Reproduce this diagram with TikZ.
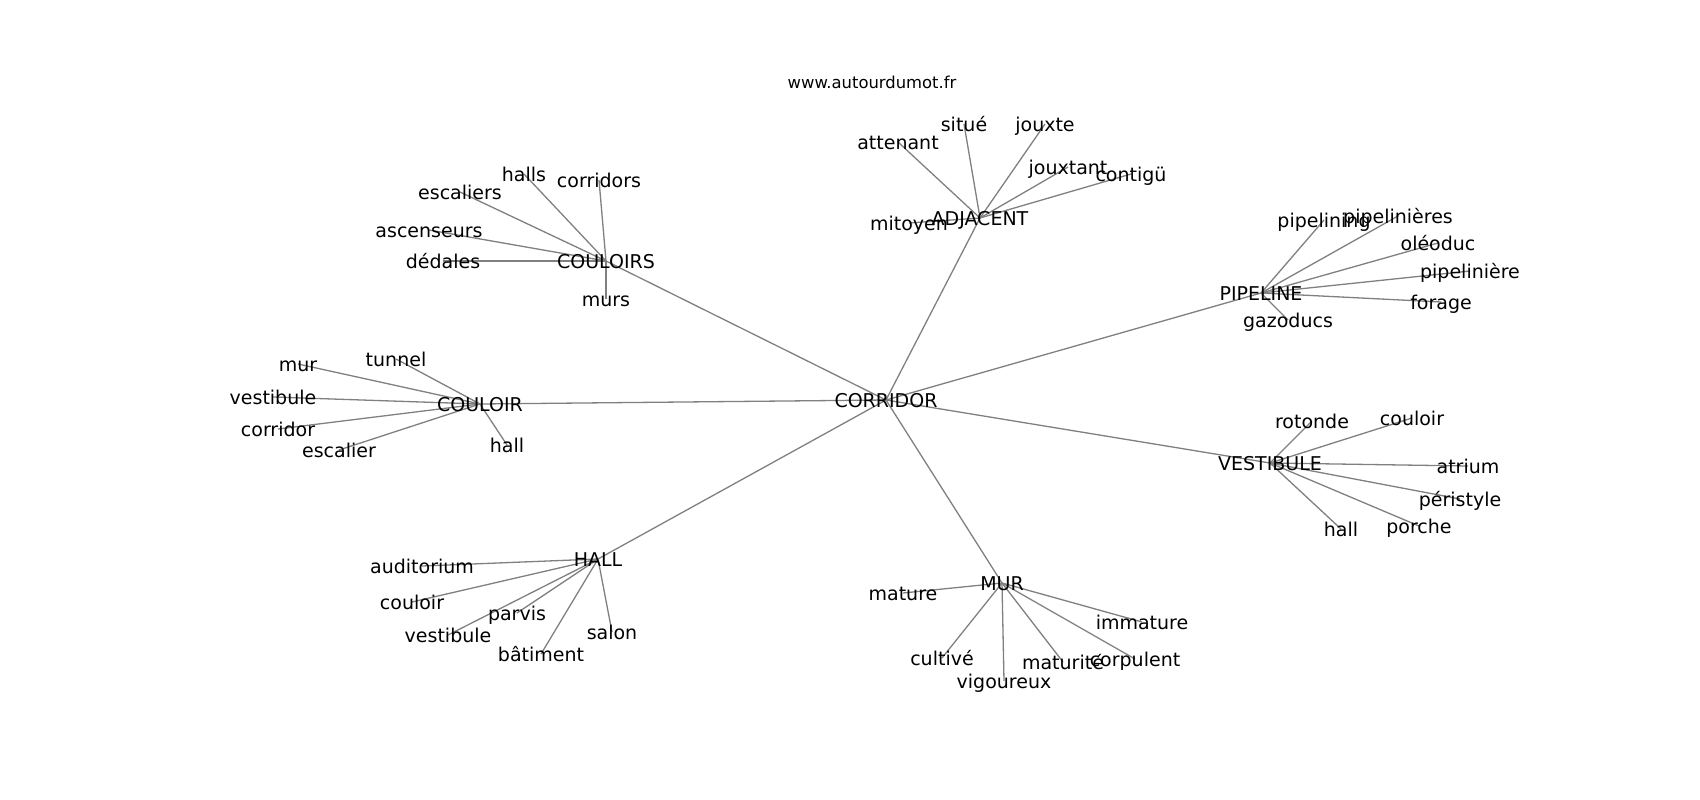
\documentclass[tikz,border=0pt]{standalone}
\usepackage{fontspec}
\setmainfont{DejaVu Sans}
\usetikzlibrary{backgrounds}
\definecolor{edgegray}{RGB}{128,128,128}
\tikzset{
  lbl/.style={inner sep=0pt, outer sep=0pt, text height=14pt, text depth=0pt,
    font=\fontsize{19}{19}\selectfont, text=black},
  ttl/.style={inner sep=0pt, outer sep=0pt, text height=7.6pt, text depth=2.36pt,
    font=\fontsize{16.4}{16.4}\selectfont, text=black},
  edge/.style={draw=edgegray, line width=1.3pt}
}
\begin{document}
\begin{tikzpicture}[x=1pt,y=-1pt]
\useasboundingbox (0,0) rectangle (1700,800);
\node[ttl] (title) at (872,86) {www.autourdumot.fr};
% hubs
\node[lbl] (corridor) at (886,400) {CORRIDOR};
\node[lbl] (couloirs) at (606,261) {COULOIRS};
\node[lbl] (adjacent) at (980,218) {ADJACENT};
\node[lbl] (pipeline) at (1261,293) {PIPELINE};
\node[lbl] (vestibule) at (1270,463) {VESTIBULE};
\node[lbl] (mur) at (1002,583) {MUR};
\node[lbl] (hall) at (598,559) {HALL};
\node[lbl] (couloir) at (480,404) {COULOIR};
% COULOIRS leaves
\node[lbl] (cs-halls) at (524,174) {halls};
\node[lbl] (cs-corridors) at (599,180) {corridors};
\node[lbl] (cs-escaliers) at (460,192) {escaliers};
\node[lbl] (cs-ascenseurs) at (429,230) {ascenseurs};
\node[lbl] (cs-dedales) at (443,261) {dédales};
\node[lbl] (cs-murs) at (606,299) {murs};
% ADJACENT leaves
\node[lbl] (ad-situe) at (964,124) {situé};
\node[lbl] (ad-jouxte) at (1045,124) {jouxte};
\node[lbl] (ad-attenant) at (898,142) {attenant};
\node[lbl] (ad-jouxtant) at (1068,167) {jouxtant};
\node[lbl] (ad-contigu) at (1131,174) {contigü};
\node[lbl] (ad-mitoyen) at (909,223) {mitoyen};
% PIPELINE leaves
\node[lbl] (pi-pipelining) at (1324,220) {pipelining};
\node[lbl] (pi-pipelinieres) at (1398,216) {pipelinières};
\node[lbl] (pi-oleoduc) at (1438,243) {oléoduc};
\node[lbl] (pi-pipeliniere) at (1470,271) {pipelinière};
\node[lbl] (pi-forage) at (1441,302) {forage};
\node[lbl] (pi-gazoducs) at (1288,320) {gazoducs};
% COULOIR leaves
\node[lbl] (co-tunnel) at (396,359) {tunnel};
\node[lbl] (co-mur) at (298,364) {mur};
\node[lbl] (co-vestibule) at (273,397) {vestibule};
\node[lbl] (co-corridor) at (278,429) {corridor};
\node[lbl] (co-escalier) at (339,450) {escalier};
\node[lbl] (co-hall) at (507,445) {hall};
% HALL leaves
\node[lbl] (ha-auditorium) at (422,566) {auditorium};
\node[lbl] (ha-couloir) at (412,602) {couloir};
\node[lbl] (ha-parvis) at (517,613) {parvis};
\node[lbl] (ha-vestibule) at (448,635) {vestibule};
\node[lbl] (ha-batiment) at (541,654) {bâtiment};
\node[lbl] (ha-salon) at (612,632) {salon};
% MUR leaves
\node[lbl] (mu-mature) at (903,593) {mature};
\node[lbl] (mu-immature) at (1142,622) {immature};
\node[lbl] (mu-cultive) at (942,658) {cultivé};
\node[lbl] (mu-vigoureux) at (1004,681) {vigoureux};
\node[lbl] (mu-maturite) at (1063,662) {maturité};
\node[lbl] (mu-corpulent) at (1135,659) {corpulent};
% VESTIBULE leaves
\node[lbl] (ve-rotonde) at (1312,421) {rotonde};
\node[lbl] (ve-couloir) at (1412,418) {couloir};
\node[lbl] (ve-atrium) at (1468,466) {atrium};
\node[lbl] (ve-peristyle) at (1460,499) {péristyle};
\node[lbl] (ve-hall) at (1341,529) {hall};
\node[lbl] (ve-porche) at (1419,526) {porche};
\begin{scope}[on background layer]
\fill[white] (0,0) rectangle (1700,800);
\foreach \h in {couloirs,adjacent,pipeline,vestibule,mur,hall,couloir}
  \draw[edge] (corridor.center) -- (\h.center);
\foreach \l in {halls,corridors,escaliers,ascenseurs,dedales,murs}
  \draw[edge] (couloirs.center) -- (cs-\l.center);
\foreach \l in {situe,jouxte,attenant,jouxtant,contigu,mitoyen}
  \draw[edge] (adjacent.center) -- (ad-\l.center);
\foreach \l in {pipelining,pipelinieres,oleoduc,pipeliniere,forage,gazoducs}
  \draw[edge] (pipeline.center) -- (pi-\l.center);
\foreach \l in {tunnel,mur,vestibule,corridor,escalier,hall}
  \draw[edge] (couloir.center) -- (co-\l.center);
\foreach \l in {auditorium,couloir,parvis,vestibule,batiment,salon}
  \draw[edge] (hall.center) -- (ha-\l.center);
\foreach \l in {mature,immature,cultive,vigoureux,maturite,corpulent}
  \draw[edge] (mur.center) -- (mu-\l.center);
\foreach \l in {rotonde,couloir,atrium,peristyle,hall,porche}
  \draw[edge] (vestibule.center) -- (ve-\l.center);
\end{scope}
\end{tikzpicture}
\end{document}
